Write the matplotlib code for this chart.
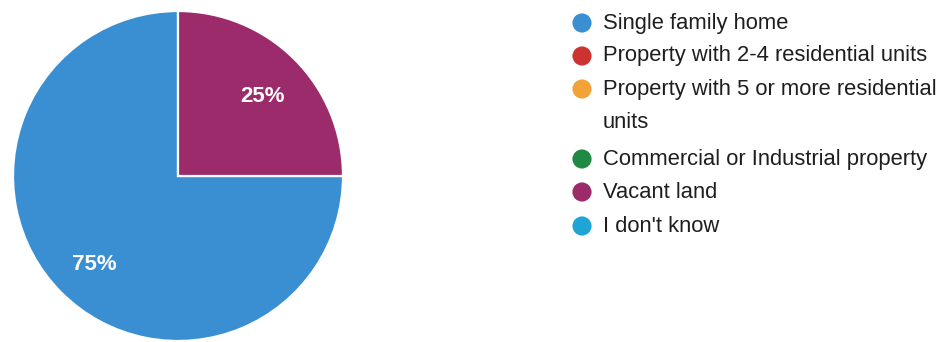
import matplotlib
matplotlib.use("Agg")
import matplotlib.pyplot as plt

# Survey answers: property type
categories = [
    "Single family home",
    "Property with 2-4 residential units",
    "Property with 5 or more residential\nunits",
    "Commercial or Industrial property",
    "Vacant land",
    "I don't know",
]
shares = [75, 0, 0, 0, 25, 0]
colors = ["#3a8fd2", "#cc3330", "#f3a238", "#1e8a44", "#9c2b6c", "#1ea4d6"]

plt.rcParams["font.family"] = ["Liberation Sans", "DejaVu Sans"]

fig = plt.figure(figsize=(9.47, 3.42), dpi=100)
W, H = 947, 342

# pie area, centre (178, 176) px, radius 165 px
cx, cy, r = 178, 176, 165
ax = fig.add_axes([(cx - r) / W, (H - cy - r) / H, 2 * r / W, 2 * r / H])

# only non-empty answers get a wedge
vals = [v for v in shares if v > 0]
cols = [c for v, c in zip(shares, colors) if v > 0]
wedges, texts, autotexts = ax.pie(
    vals, colors=cols, startangle=90, counterclock=True,
    autopct="%d%%", pctdistance=0.72,
    wedgeprops=dict(edgecolor="white", linewidth=1.6),
    textprops=dict(color="white", fontsize=16, fontweight="bold"),
)
# labels sit a touch below the wedge centre line
for t in autotexts:
    x, y = t.get_position()
    t.set_position((x, y - 0.025))
ax.set_xlim(-1, 1)
ax.set_ylim(-1, 1)
ax.set_aspect("auto")

# legend drawn in pixel coordinates
lg = fig.add_axes([0, 0, 1, 1], facecolor="none")
lg.set_xlim(0, W)
lg.set_ylim(H, 0)
lg.axis("off")
rows = [23, 56, 89, 159, 192, 226]
for name, col, y in zip(categories, colors, rows):
    lg.scatter(582, y, s=190, color=col, edgecolors="none")
    # wrapped labels continue one line lower
    for i, line in enumerate(name.split("\n")):
        lg.text(603, y + i * 34, line, fontsize=15.8, color="#1e1e1e",
                va="center")

fig.savefig("out.png", dpi=100)
